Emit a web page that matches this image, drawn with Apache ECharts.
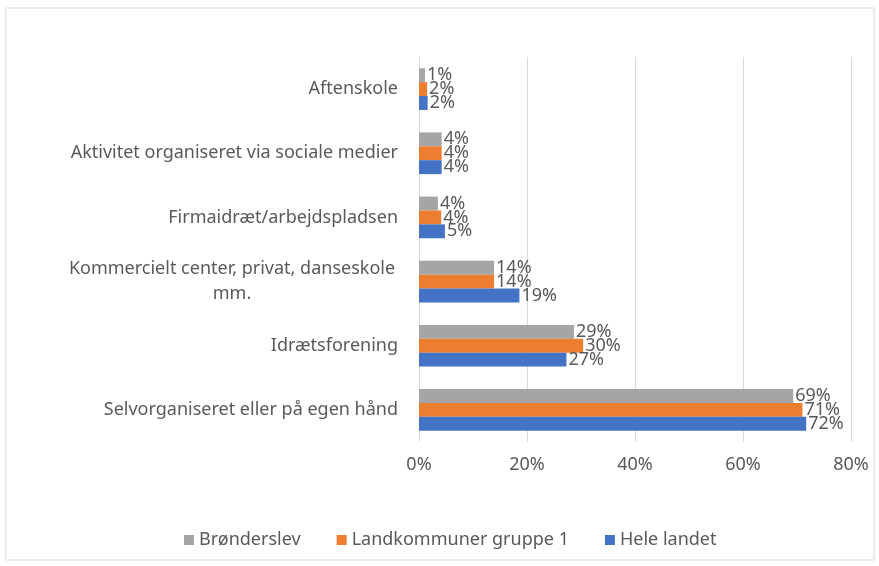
<!DOCTYPE html>
<html>
<head>
<meta charset="utf-8">
<script src="https://cdn.jsdelivr.net/npm/echarts@6/dist/echarts.min.js"></script>
<style>
  html, body { margin: 0; padding: 0; background: #fff; }
  #chart { width: 879px; height: 566px; }
</style>
</head>
<body>
<div id="chart"></div>
<script>
// categories from bottom to top
var categories = [
  'Selvorganiseret eller på egen hånd',
  'Idrætsforening',
  'Kommercielt center, privat, danseskole\nmm.',
  'Firmaidræt/arbejdspladsen',
  'Aktivitet organiseret via sociale medier',
  'Aftenskole'
];
var seriesNames = ['Brønderslev', 'Landkommuner gruppe 1', 'Hele landet'];
var broenderslev = [69.3, 28.7, 13.9, 3.5, 4.2, 1.1];
var landkommuner = [71.0, 30.4, 13.9, 4.1, 4.2, 1.5];
var heleLandet = [71.7, 27.3, 18.6, 4.8, 4.2, 1.6];
var xTicks = [0, 20, 40, 60, 80];

var chart = echarts.init(document.getElementById('chart'));
var font = 'Noto Sans';
var textColor = '#595959';
var fs = 18;

function barSeries(name, data, color) {
  return {
    name: name,
    type: 'bar',
    data: data,
    barGap: '0%',
    barCategoryGap: '35%',
    itemStyle: { color: color },
    label: {
      show: true,
      position: 'right',
      distance: 2,
      color: textColor,
      fontFamily: font,
      fontSize: fs,
      formatter: function (p) { return Math.round(p.value) + '%'; }
    }
  };
}

var option = {
  backgroundColor: '#fff',
  animation: false,
  graphic: [{
    type: 'rect',
    shape: { x: 6, y: 8, width: 868, height: 552 },
    style: { fill: 'none', stroke: '#d9d9d9', lineWidth: 1 },
    silent: true
  }],
  grid: { left: 419, right: 28, top: 57, bottom: 124 },
  legend: {
    data: seriesNames,
    top: 526,
    left: 179,
    itemWidth: 10,
    itemHeight: 10,
    itemGap: 36,
    icon: 'rect',
    textStyle: { color: textColor, fontFamily: font, fontSize: fs }
  },
  xAxis: {
    type: 'value',
    min: xTicks[0],
    max: xTicks[xTicks.length - 1],
    interval: 20,
    axisLine: { show: false },
    axisTick: { show: false },
    splitLine: { lineStyle: { color: '#d9d9d9' } },
    axisLabel: {
      color: textColor,
      fontFamily: font,
      fontSize: fs,
      margin: 14,
      formatter: '{value}%'
    }
  },
  yAxis: {
    type: 'category',
    data: categories,
    axisTick: { show: false },
    axisLine: { lineStyle: { color: '#d9d9d9' } },
    axisLabel: {
      color: textColor,
      fontFamily: font,
      fontSize: fs,
      margin: 21,
      align: 'right',
      lineHeight: 25,
      formatter: function (v) {
        if (v.indexOf('\n') < 0) return v;
        return v.split('\n').map(function (s) { return '{w|' + s + '}'; }).join('\n');
      },
      rich: {
        w: { width: 332, align: 'center', fontFamily: font, fontSize: fs, color: textColor, lineHeight: 25 }
      }
    }
  },
  series: [
    barSeries(seriesNames[0], broenderslev, '#A5A5A5'),
    barSeries(seriesNames[1], landkommuner, '#ED7D31'),
    barSeries(seriesNames[2], heleLandet, '#4472C4')
  ]
};

chart.setOption(option);
</script>
</body>
</html>
